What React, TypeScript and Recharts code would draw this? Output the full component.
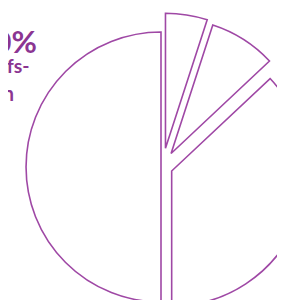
import React from "react";
import { PieChart, Pie, Sector } from "recharts";

// Slices, clockwise from 12 o'clock
const categories = ["Segment A", "Segment B", "Segment C", "Segment D"];
const shares = [5, 8, 37, 50];

const data = categories.map((name, i) => ({ name, value: shares[i] }));

// style: how far each slice is pulled out from the centre (px)
const EXPLODE = [19, 16, 10, 1.5];
const STROKE = "#9f48a5";
const TEXT = "#8b3592";

const RADIAN = Math.PI / 180;

const ExplodedSector = (props: any) => {
  const { cx, cy, midAngle, index } = props;
  const d = EXPLODE[index] ?? 0;
  const dx = d * Math.cos(-midAngle * RADIAN);
  const dy = d * Math.sin(-midAngle * RADIAN);
  return <Sector {...props} cx={cx + dx} cy={cy + dy} />;
};

export default function App() {
  return (
    <div style={{ margin: -8, position: "relative", width: 285, height: 308, overflow: "hidden", background: "#fff" }}>
      <PieChart width={285} height={308} margin={{ top: 0, right: 0, bottom: 0, left: 0 }}>
        <Pie
          data={data}
          dataKey="value"
          nameKey="name"
          cx={162.5}
          cy={167}
          innerRadius={0}
          outerRadius={135}
          startAngle={90}
          endAngle={-270}
          fill="#ffffff"
          stroke={STROKE}
          strokeWidth={1.6}
          isAnimationActive={false}
          activeShape={ExplodedSector}
          inactiveShape={ExplodedSector}
          shape={ExplodedSector}
          label={false}
          labelLine={false}
        />
      </PieChart>
      <svg width={285} height={308} style={{ position: "absolute", left: 0, top: 0, pointerEvents: "none" }}>
        <g fontFamily="'Liberation Sans Narrow', 'Arial Narrow', Lato, sans-serif" fill={TEXT} fontWeight={700}>
          <text x={37} y={53} textAnchor="end" fontSize={31}>50%</text>
          <text x={29.5} y={73} textAnchor="end" fontSize={19.5}>bedrijfs-</text>
          <text x={14} y={101} textAnchor="end" fontSize={20}>leven</text>
          <text x={259} y={1} textAnchor="end" fontSize={18}>Verdeling</text>
        </g>
      </svg>
    </div>
  );
}
